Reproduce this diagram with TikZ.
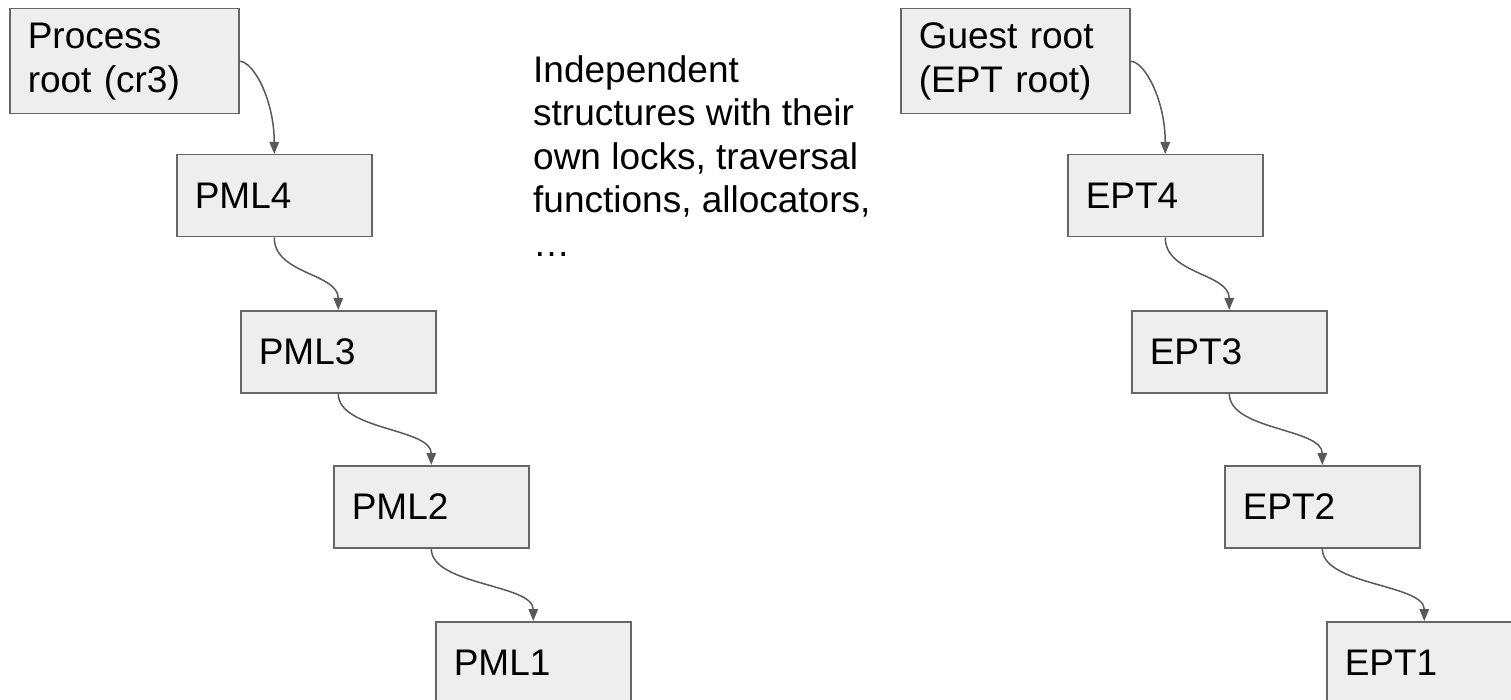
\documentclass[tikz,border=0pt]{standalone}
\usepackage{fontspec}
\setmainfont{Liberation Sans}
\usetikzlibrary{arrows.meta}
\definecolor{boxfill}{HTML}{EEEEEE}
\definecolor{boxline}{HTML}{666666}
\definecolor{arrowcol}{HTML}{595959}
\begin{document}
\begin{tikzpicture}[x=1pt,y=1pt,
  box/.style={draw=boxline, fill=boxfill, line width=1.5pt, anchor=north west,
    minimum height=82pt, text width=159pt, align=left, inner xsep=18pt, inner ysep=0pt,
    font=\fontsize{37}{44}\selectfont},
  rootbox/.style={box, minimum height=105pt, text width=193pt},
  link/.style={draw=arrowcol, line width=1.5pt, -{Triangle[length=12pt,width=9.5pt]}},
  note/.style={anchor=north west, align=left, inner sep=0pt, font=\fontsize{37}{43.5}\selectfont}]
\useasboundingbox (0,0) rectangle (1511,-700);
\clip (0,0) rectangle (1511,-700);
% left column
\node[rootbox] (root) at (9,-8) {Process\\root (cr3)};
\node[box] (pml4) at (176,-154) {PML4};
\node[box] (pml3) at (240,-310) {PML3};
\node[box] (pml2) at (333,-465) {PML2};
\node[box] (pml1) at (435,-621) {PML1};
% right column
\node[rootbox] (guest) at (900,-8) {Guest root\\(EPT root)};
\node[box] (ept4) at (1067,-154) {EPT4};
\node[box] (ept3) at (1131,-310) {EPT3};
\node[box] (ept2) at (1224,-465) {EPT2};
\node[box] (ept1) at (1326,-621) {EPT1};
% middle note
\node[note] (txt) at (533,-55) {Independent\\structures with their\\own locks, traversal\\functions, allocators,\\…};
% connectors
\draw[link] (root.east) .. controls +(14,0) and +(0,54) .. (pml4.north);
\draw[link] (pml4.south) .. controls +(0,-37) and +(0,37) .. (pml3.north);
\draw[link] (pml3.south) .. controls +(0,-37) and +(0,37) .. (pml2.north);
\draw[link] (pml2.south) .. controls +(0,-37) and +(0,37) .. (pml1.north);
\draw[link] (guest.east) .. controls +(14,0) and +(0,54) .. (ept4.north);
\draw[link] (ept4.south) .. controls +(0,-37) and +(0,37) .. (ept3.north);
\draw[link] (ept3.south) .. controls +(0,-37) and +(0,37) .. (ept2.north);
\draw[link] (ept2.south) .. controls +(0,-37) and +(0,37) .. (ept1.north);
\end{tikzpicture}
\end{document}
